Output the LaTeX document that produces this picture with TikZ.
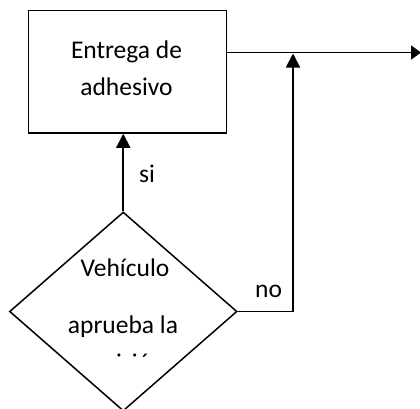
\documentclass[tikz,border=0pt]{standalone}
\usepackage{fontspec}
\setmainfont{Carlito}
\usetikzlibrary{shapes.geometric,arrows.meta}
\begin{document}
\begin{tikzpicture}[x=1pt,y=-1pt,
  shp/.style={draw=black,line width=1.5pt,inner sep=0pt},
  arr/.style={line width=1.9pt,-{Triangle[length=14pt,width=14pt]}},
  arrh/.style={line width=1.9pt,-{Triangle[length=10pt,width=14pt]}},
  txt/.style={anchor=base,inner sep=0pt,font=\fontsize{25.5}{30}\selectfont}]
\useasboundingbox (0,0) rectangle (420,408);
\node[shp,rectangle,minimum width=198pt,minimum height=122.5pt] (box) at (127.5,71.75) {};
\node[txt] (t1) at (126.5,58.3) {Entrega de};
\node[txt] (t2) at (126.5,95) {adhesivo};
\node[shp,diamond,minimum width=227.5pt,minimum height=199pt] (dia) at (123.25,311.5) {};
\node[txt] (d1) at (125,276) {Vehículo};
\node[txt] (d2) at (123,333) {aprueba la};
\begin{scope}
\clip (0,300) rectangle (420,357.5);
\node[txt] (d3) at (124,371) {revisión};
\end{scope}
\node[txt,anchor=base west] (si) at (139,182) {si};
\node[txt,anchor=base west] (no) at (255,297) {no};
\coordinate (out) at (421,52.5);
\coordinate (jn) at (293,53.5);
\draw[arr] (dia.north) -- (dia.north |- box.south);
\draw[arrh] (box.east |- out) -- (out);
\draw[arr] (dia.east) -| (jn);
\end{tikzpicture}
\end{document}
